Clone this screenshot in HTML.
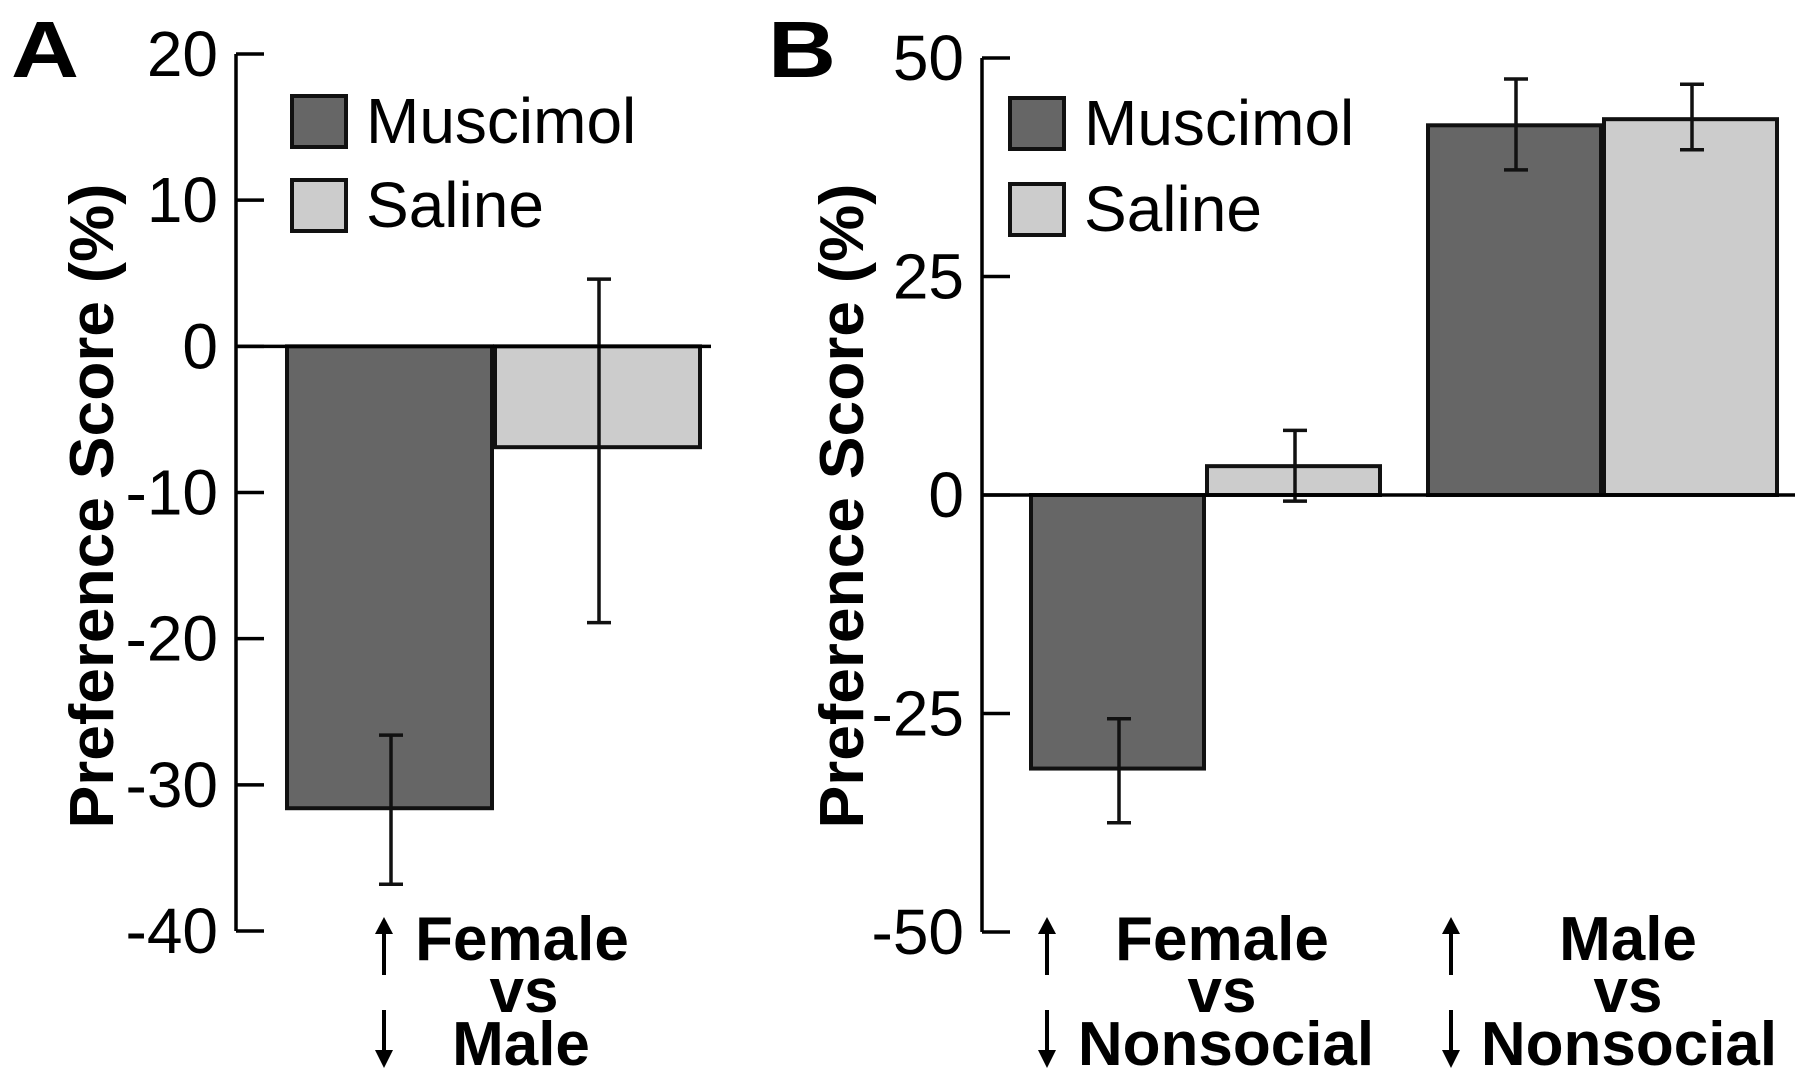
<!DOCTYPE html>
<html><head><meta charset="utf-8"><style>
html,body{margin:0;padding:0;background:#fff}
svg{display:block}
text{font-family:"Liberation Sans",Arial,sans-serif;fill:#000}
.b{font-weight:bold}
</style></head><body>
<svg id="chart" width="1800" height="1081" viewBox="0 0 1800 1081" xmlns="http://www.w3.org/2000/svg"></svg>
<script>
// Panel A data
const catsA = ["Female vs Male"];
const muscA = [-31.6];
const muscAErrHi = [-26.6];
const muscAErrLo = [-36.8];
const salA = [-6.9];
const salAErrHi = [4.6];
const salAErrLo = [-18.9];
const ticksA = [20, 10, 0, -10, -20, -30, -40];
const tickLabelsA = ["20", "10", "0", "-10", "-20", "-30", "-40"];
// Panel B data
const catsB = ["Female vs Nonsocial", "Male vs Nonsocial"];
const muscB = [-31.3, 42.3];
const muscBErrHi = [-25.6, 47.6];
const muscBErrLo = [-37.5, 37.2];
const salB = [3.3, 43.0];
const salBErrHi = [7.4, 47.0];
const salBErrLo = [-0.7, 39.5];
const ticksB = [50, 25, 0, -25, -50];
const tickLabelsB = ["50", "25", "0", "-25", "-50"];

const NS = "http://www.w3.org/2000/svg";
const svg = document.getElementById("chart");
function el(tag, attrs, parent) {
  const e = document.createElementNS(NS, tag);
  for (const k in attrs) e.setAttribute(k, attrs[k]);
  (parent || svg).appendChild(e);
  return e;
}
function txt(s, attrs, parent) { const t = el("text", attrs, parent); t.textContent = s; return t; }

function panel(cfg) {
  const g = el("g", {});
  
  
  const y = v => cfg.y0 + (cfg.vmax - v) / (cfg.vmax - cfg.vmin) * (cfg.y1 - cfg.y0);
  const L = txt(cfg.letter, {x: cfg.letterX, y: 77, "font-size": 80, class: "b", textLength: 68, lengthAdjust: "spacingAndGlyphs"}, g);
  
  
  const yt = txt("Preference Score (%)", {x: 0, y: 0, "font-size": 62, class: "b", "text-anchor": "middle",
    textLength: 645, lengthAdjust: "spacingAndGlyphs",
    transform: `translate(${cfg.titleX},506) rotate(-90)`}, g);
  
  
  const ax = el("line", {x1: cfg.ax, y1: y(cfg.vmax), x2: cfg.ax, y2: y(cfg.vmin), stroke: "#000", "stroke-width": 3.5}, g);
  
  
  cfg.ticks.forEach((t, i) => {
    const tl = el("line", {x1: cfg.ax, y1: y(t), x2: cfg.ax + 28, y2: y(t), stroke: "#000", "stroke-width": 3.5}, g);
    
    
    const lb = txt(cfg.tickLabels[i], {x: cfg.ax - 18, y: y(t) + 22, "font-size": 64, "text-anchor": "end"}, g);
    
    
  });
  const series = [
    {vals: cfg.musc, hi: cfg.muscHi, lo: cfg.muscLo, fill: "#666666", name: "muscimol"},
    {vals: cfg.sal, hi: cfg.salHi, lo: cfg.salLo, fill: "#cccccc", name: "saline"}
  ];
  cfg.cats.forEach((c, ci) => {
    series.forEach((s, si) => {
      const x0 = cfg.groupX[ci] + si * cfg.barW;
      const v = s.vals[ci];
      const r = el("rect", {x: x0, y: Math.min(y(0), y(v)), width: cfg.barW - 3, height: Math.abs(y(v) - y(0)),
        fill: s.fill, stroke: "#111", "stroke-width": 4}, g);
      
      
      const cx = x0 + cfg.barW / 2;
      const eg = el("g", {stroke: "#111", "stroke-width": 3.5}, g);
      
      
      el("line", {x1: cx, y1: y(s.hi[ci]), x2: cx, y2: y(s.lo[ci])}, eg);
      el("line", {x1: cx - 12, y1: y(s.hi[ci]), x2: cx + 12, y2: y(s.hi[ci])}, eg);
      el("line", {x1: cx - 12, y1: y(s.lo[ci]), x2: cx + 12, y2: y(s.lo[ci])}, eg);
    });
  });
  const zl = el("line", {x1: cfg.ax, y1: y(0), x2: cfg.zeroEnd, y2: y(0), stroke: "#000", "stroke-width": 3.5}, g);
  
  
  [["Muscimol", "#666666", cfg.legY[0]], ["Saline", "#cccccc", cfg.legY[1]]].forEach(([n, f, ly]) => {
    const lg = el("g", {}, g);
    
    
    el("rect", {x: cfg.legX, y: ly, width: 54, height: 51, fill: f, stroke: "#111", "stroke-width": 4}, lg);
    txt(n, {x: cfg.legX + 74, y: ly + 47, "font-size": 64}, lg);
  });
  cfg.cats.forEach((c, ci) => {
    const lab = cfg.labels[ci];
    const cg = el("g", {}, g);
    
    
    lab.lines.forEach((ln, li) => {
      txt(ln.t, {x: ln.x, y: [960, 1012, 1065][li], "font-size": 62, class: "b", "text-anchor": "middle"}, cg);
    });
    const ax2 = lab.arrowX;
    el("line", {x1: ax2, y1: 922, x2: ax2, y2: 975, stroke: "#000", "stroke-width": 4}, cg);
    el("polygon", {points: `${ax2-9},934 ${ax2+9},934 ${ax2},917`, fill: "#000"}, cg);
    el("line", {x1: ax2, y1: 1010, x2: ax2, y2: 1062, stroke: "#000", "stroke-width": 4}, cg);
    el("polygon", {points: `${ax2-9},1050 ${ax2+9},1050 ${ax2},1068`, fill: "#000"}, cg);
  });
}

panel({name: "panel-a", letter: "A", letterX: 11, titleX: 113, ax: 236, vmax: 20, vmin: -40, y0: 54, y1: 931,
  ticks: ticksA, tickLabels: tickLabelsA, cats: catsA, musc: muscA, muscHi: muscAErrHi, muscLo: muscAErrLo,
  sal: salA, salHi: salAErrHi, salLo: salAErrLo, groupX: [287], barW: 208, zeroEnd: 711,
  legX: 292, legY: [96, 180],
  labels: [{arrowX: 384, lines: [{t: "Female", x: 522}, {t: "vs", x: 524}, {t: "Male", x: 521}]}]});

panel({name: "panel-b", letter: "B", letterX: 768, titleX: 863, ax: 982, vmax: 50, vmin: -50, y0: 58, y1: 932,
  ticks: ticksB, tickLabels: tickLabelsB, cats: catsB, musc: muscB, muscHi: muscBErrHi, muscLo: muscBErrLo,
  sal: salB, salHi: salBErrHi, salLo: salBErrLo, groupX: [1031, 1428], barW: 176, zeroEnd: 1795,
  legX: 1010, legY: [98, 184],
  labels: [{arrowX: 1047, lines: [{t: "Female", x: 1222}, {t: "vs", x: 1222}, {t: "Nonsocial", x: 1226}]},
           {arrowX: 1451, lines: [{t: "Male", x: 1628}, {t: "vs", x: 1628}, {t: "Nonsocial", x: 1629}]}]});
</script>
</body></html>
